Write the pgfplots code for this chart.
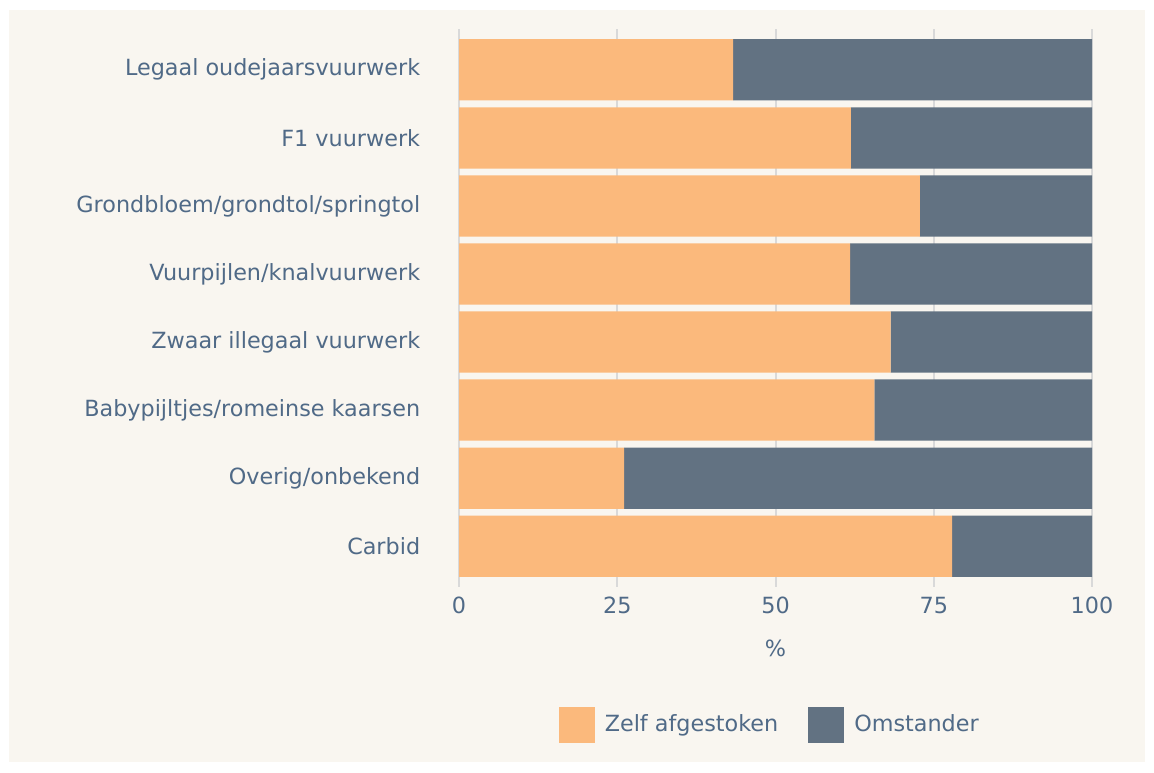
\documentclass[border=0pt]{standalone}
\usepackage{pgfplots}
\pgfplotsset{compat=1.18}
\usepackage{fontspec}
\setmainfont{DejaVu Sans}
\definecolor{bgcream}{HTML}{F9F6F0}
\definecolor{txt}{HTML}{506A87}
\definecolor{orangebar}{HTML}{FBB97C}
\definecolor{slatebar}{HTML}{627282}
\definecolor{gridc}{HTML}{D9D9D9}
\begin{document}
\fontsize{11.15}{13.4}\selectfont
\begin{tikzpicture}
\fill[white] (0pt,0pt) rectangle (577pt,386pt);
\fill[bgcream] (4.5pt,5pt) rectangle (572.5pt,381pt);
\begin{axis}[
  at={(229.5pt,92.5pt)}, anchor=south west,
  scale only axis, width=316.5pt, height=279pt,
  xbar stacked, bar width=0.9,
  y dir=reverse,
  xmin=0, xmax=100, ymin=-0.6, ymax=7.6,
  axis line style={draw=none},
  major tick length=0pt,
  xtick={0,25,50,75,100},
  ytick={0,1,2,3,4,5,6,7},
  yticklabels={Legaal oudejaarsvuurwerk,F1 vuurwerk,Grondbloem/grondtol/springtol,Vuurpijlen/knalvuurwerk,Zwaar illegaal vuurwerk,Babypijltjes/romeinse kaarsen,Overig/onbekend,Carbid},
  xmajorgrids, grid style={gridc, line width=1pt},
  /pgf/number format/assume math mode=true,
  tick label style={font=\fontsize{11.15}{13.4}\selectfont, text=txt},
  yticklabel style={xshift=-15.5pt},
  xticklabel style={yshift=-1pt},
  xlabel={\%},
  xlabel style={at={(axis description cs:0.5,0)}, anchor=center, yshift=-30.5pt, text=txt, font=\fontsize{11.15}{13.4}\selectfont},
  legend columns=2,
  legend style={at={(axis description cs:0.4925,-0.247)}, anchor=center, draw=none, fill=none, text=txt, font=\fontsize{11.15}{13.4}\selectfont, /tikz/every even column/.append style={column sep=13pt}},
  legend image code/.code={\fill[#1] (0pt,-9pt) rectangle (18pt,9pt); \path[draw=none,fill=none] (0pt,0pt) -- (21pt,0pt);},
]
\addplot[fill=orangebar, draw=none] coordinates {(43.3,0) (61.9,1) (72.8,2) (61.8,3) (68.2,4) (65.6,5) (26.1,6) (77.9,7)};
\addlegendentry{Zelf afgestoken}
\addplot[fill=slatebar, draw=none] coordinates {(56.7,0) (38.1,1) (27.2,2) (38.2,3) (31.8,4) (34.4,5) (73.9,6) (22.1,7)};
\addlegendentry{Omstander}
\end{axis}
\end{tikzpicture}
\end{document}
